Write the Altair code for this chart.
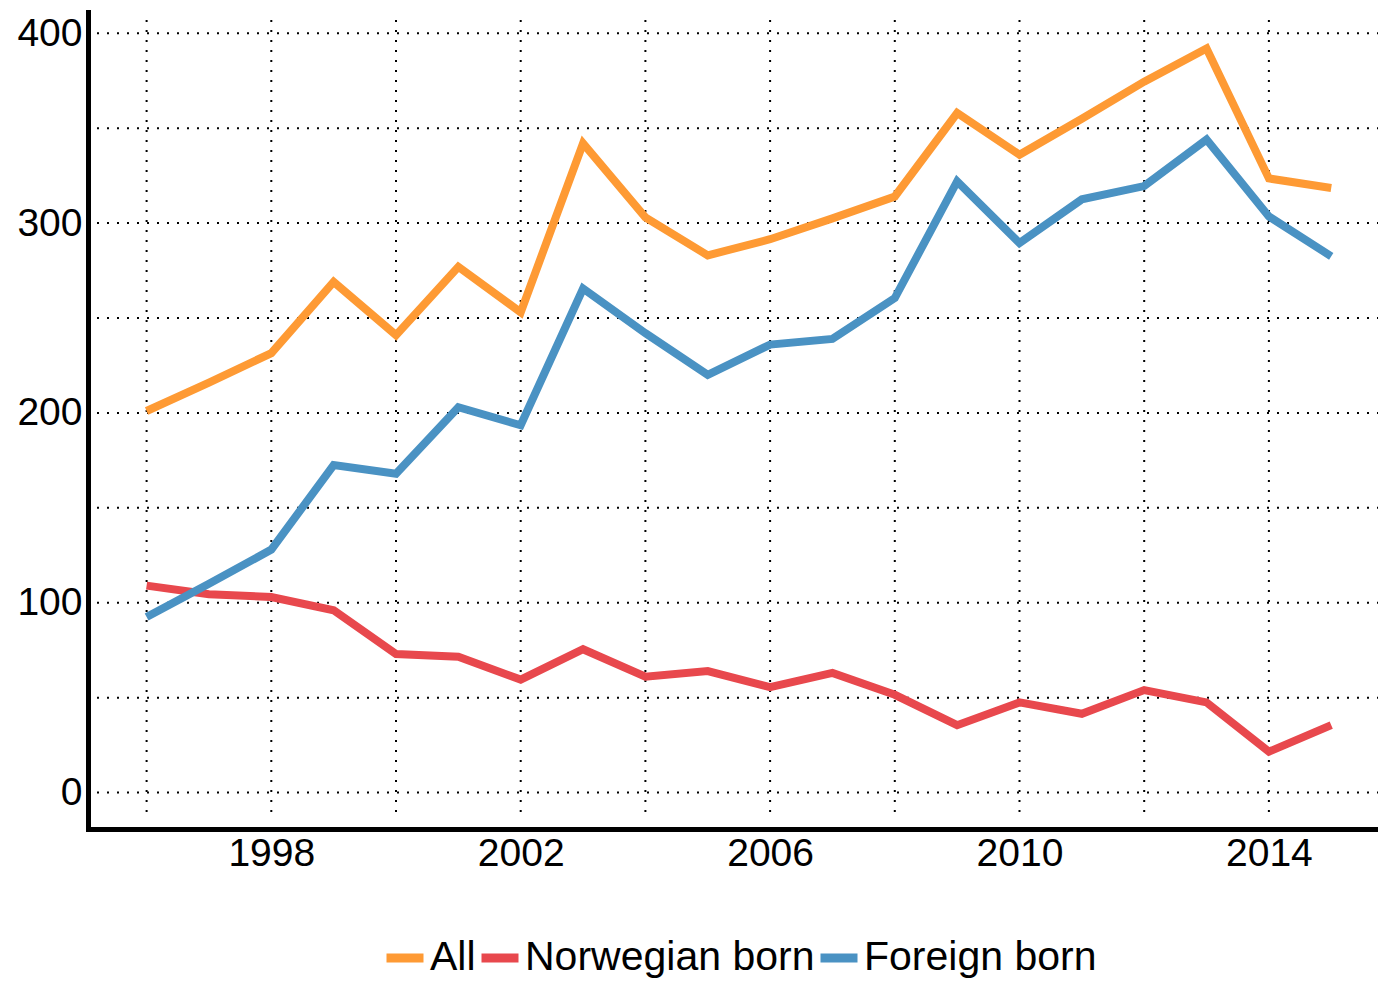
import altair as alt
import pandas as pd

years = list(range(1996, 2016))
all_vals = [201, 216, 231.5, 269, 241, 277, 253, 342, 303, 283,
            291.5, 302.5, 314, 358, 336, 355, 374.5, 392, 323.5, 318.5]
norwegian = [109, 104.5, 103, 96, 73, 71.5, 59.5, 75.5, 61, 64,
             55.5, 63, 51.5, 35.5, 47.5, 41.5, 54, 47.5, 21.5, 35.5]
foreign = [92.5, 110, 128, 172.5, 168, 203, 193.5, 265.5, 242, 220,
           236, 239, 260.5, 322, 289.5, 312.5, 319.5, 344, 303.5, 282.5]

series = ["All", "Norwegian born", "Foreign born"]
colors = ["#FE9A34", "#E8484D", "#4A92C3"]

y_labels = [0, 100, 200, 300, 400]
x_labels = [1998, 2002, 2006, 2010, 2014]
y_grid = [0, 50, 100, 150, 200, 250, 300, 350, 400]
x_grid = [1996, 1998, 2000, 2002, 2004, 2006, 2008, 2010, 2012, 2014]

rows = []
for name, vals in zip(series, [all_vals, norwegian, foreign]):
    for yr, v in zip(years, vals):
        rows.append({"year": yr, "value": v, "series": name})
df = pd.DataFrame(rows)

W, H = 1290, 817
xscale = alt.Scale(domain=[1995.06, 2015.75], nice=False, zero=False)
yscale = alt.Scale(domain=[-19.2, 411.2], nice=False, zero=False)

xaxis = alt.Axis(values=x_labels, format="d", title=None, grid=False, ticks=False,
                 tickSize=0, labelPadding=5, labelFontSize=39)
yaxis = alt.Axis(values=y_labels, format="d", title=None, grid=False, ticks=False,
                 tickSize=0, labelPadding=6, labelFontSize=39)

hgrid = alt.Chart(pd.DataFrame({"g": y_grid})).mark_rule(
    color="black", strokeWidth=2, strokeDash=[2, 8]
).encode(
    y=alt.Y("g:Q", scale=yscale, axis=yaxis),
    x=alt.value(9),
    x2=alt.value(W),
)

vgrid = alt.Chart(pd.DataFrame({"gx": x_grid})).mark_rule(
    color="black", strokeWidth=2, strokeDash=[2, 8]
).encode(
    x=alt.X("gx:Q", scale=xscale, axis=xaxis),
    y=alt.value(8),
    y2=alt.value(H - 11),
)

lines = alt.Chart(df).mark_line(strokeWidth=8).encode(
    x=alt.X("year:Q", scale=xscale, axis=xaxis),
    y=alt.Y("value:Q", scale=yscale, axis=yaxis),
    color=alt.Color(
        "series:N",
        scale=alt.Scale(domain=series, range=colors),
        sort=series,
        legend=alt.Legend(
            title=None, orient="none", direction="horizontal",
            legendX=294, legendY=923, symbolType="stroke",
            symbolStrokeWidth=9, symbolSize=1369, labelFontSize=41,
            labelOffset=2, columnPadding=-13, padding=0, labelLimit=1000,
            labelFont="Liberation Sans", labelColor="black",
        ),
    ),
)

chart = alt.layer(hgrid, vgrid, lines).properties(
    width=W, height=H,
    autosize=alt.AutoSizeParams(type="none"),
    padding={"left": 80, "top": 4, "right": 0, "bottom": 151},
).configure_view(stroke=None).configure_axis(
    labelFont="Liberation Sans", labelColor="black",
    domainColor="black", domainWidth=5, domainCap="square",
)

chart.save("out.html", embed_options={"renderer": "svg", "actions": False})
